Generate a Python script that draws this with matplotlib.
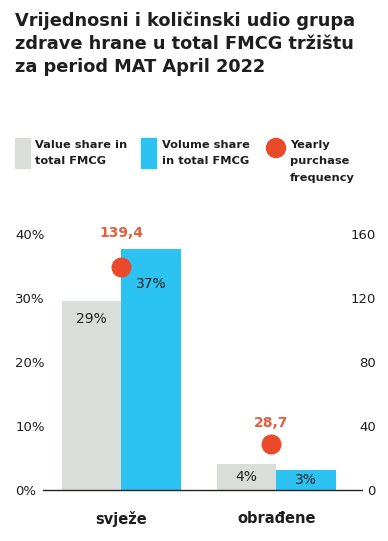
import matplotlib.pyplot as plt
from matplotlib.patches import Rectangle, Ellipse

# data
categories = ['svježe', 'obrađene']
value_share = [29.5, 4.1]
volume_share = [37.6, 3.1]
value_labels = ['29%', '4%']
volume_labels = ['37%', '3%']
frequency = [139.4, 28.7]
frequency_labels = ['139,4', '28,7']
legend_labels = ['Value share in\ntotal FMCG', 'Volume share\nin total FMCG', 'Yearly\npurchase\nfrequency']
title = 'Vrijednosni i količinski udio grupa\nzdrave hrane u total FMCG tržištu\nza period MAT April 2022'

GRAY = '#d9dedb'
BLUE = '#2cc2f2'
RED = '#ea4a2a'
RED_TXT = '#e0603f'
DARK = '#1e1e1e'

plt.rcParams['font.family'] = ['DejaVu Sans']

W, H = 388, 541
fig = plt.figure(figsize=(W / 100, H / 100), dpi=100)
fig.patch.set_facecolor('white')

def fx(px):
    return px / W

def fy(py):
    return 1 - py / H

# title
fig.text(fx(15), fy(11), title, ha='left', va='top', fontsize=12.8,
         fontweight='bold', color=DARK, linespacing=1.36)

# legend drawn by hand
fig.patches.append(Rectangle((fx(15), fy(168)), fx(15), 30 / H, color=GRAY,
                             transform=fig.transFigure, figure=fig))
fig.patches.append(Rectangle((fx(141), fy(168)), fx(15), 30 / H, color=BLUE,
                             transform=fig.transFigure, figure=fig))
fig.patches.append(Ellipse((fx(276), fy(148)), 19 / W, 19 / H, color=RED,
                           transform=fig.transFigure, figure=fig))
for x, lab in zip([35, 162, 290], legend_labels):
    fig.text(fx(x), fy(140), lab, ha='left', va='top', fontsize=8.2,
             fontweight='bold', color=DARK, linespacing=1.8)

# main axes
ax = fig.add_axes([fx(43), fy(490), fx(362 - 43), (490 - 234) / H])
x = range(len(categories))
w = 0.384
b1 = ax.bar([i - w / 2 for i in x], value_share, width=w, color=GRAY)
b2 = ax.bar([i + w / 2 for i in x], volume_share, width=w, color=BLUE)
ax.set_ylim(0, 40)
ax.set_xlim(-0.506, 1.552)

for s in ['top', 'left', 'right']:
    ax.spines[s].set_visible(False)
ax.spines['bottom'].set_color('#222222')
ax.spines['bottom'].set_linewidth(1)

ax.set_yticks([0, 10, 20, 30, 40])
ax.set_yticklabels(['0%', '10%', '20%', '30%', '40%'])
ax.tick_params(axis='y', length=0, pad=20, labelsize=9.5, labelcolor=DARK)
for t in ax.get_yticklabels():
    t.set_horizontalalignment('left')

ax.set_xticks(list(x))
ax.set_xticklabels(categories, fontweight='bold', fontsize=10.5)
ax.tick_params(axis='x', length=0, pad=15, labelcolor=DARK)

# labels inside bars (offset in pixels below the top)
val_dy = [18, None]
vol_dy = [35, None]
for bars, labels, dys in [(b1, value_labels, val_dy), (b2, volume_labels, vol_dy)]:
    for r, lab, dy in zip(bars, labels, dys):
        cx = r.get_x() + r.get_width() / 2
        if dy is None:
            ax.text(cx, r.get_height() / 2, lab, ha='center', va='center',
                    fontsize=10, color=DARK)
        else:
            ax.annotate(lab, (cx, r.get_height()), xytext=(0, -dy * 0.72),
                        textcoords='offset points', ha='center', va='center',
                        fontsize=10, color=DARK)

# frequency on the right axis
ax2 = ax.twinx()
ax2.set_ylim(0, 160)
for s in ['top', 'left', 'right', 'bottom']:
    ax2.spines[s].set_visible(False)
ax2.set_yticks([0, 40, 80, 120, 160])
ax2.tick_params(axis='y', length=0, pad=10, labelsize=9.5, labelcolor=DARK)
for t in ax2.get_yticklabels():
    t.set_horizontalalignment('right')

fx_pos = [0, 0.965]
ax2.scatter(fx_pos, frequency, s=180, color=RED, zorder=5, clip_on=False)
txt_dy = [34, 21]
for xp, v, lab, dy in zip(fx_pos, frequency, frequency_labels, txt_dy):
    ax2.annotate(lab, (xp, v), xytext=(0, dy * 0.72), textcoords='offset points',
                 ha='center', va='center', fontsize=10, fontweight='bold',
                 color=RED_TXT, annotation_clip=False)

fig.savefig('out.png', dpi=100)
